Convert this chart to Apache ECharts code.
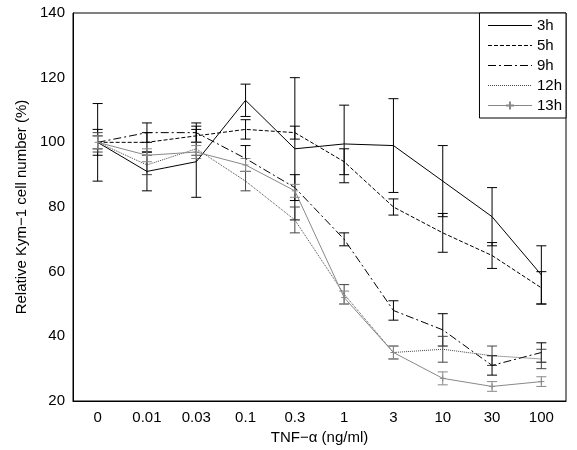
<!DOCTYPE html>
<html><head><meta charset="utf-8">
<script src="https://cdn.jsdelivr.net/npm/echarts@6/dist/echarts.min.js"></script>
<style>html,body{margin:0;padding:0;background:#fff}#main{width:577px;height:450px}</style>
</head><body><div id="main"></div>
<script>
var doses = ['0','0.01','0.03','0.1','0.3','1','3','10','30','100'];
var names = ['3h','5h','9h','12h','13h'];
var v3h  = [100, 91, 94, 113, 98, 99.5, 99, 88, 77, 59];
var e3h  = [12, 6, 11, 5, 22, 12, 14.5, 11, 9, 9];
var v5h  = [100, 100, 102, 104, 103, 94, 80, 72, 65, 55];
var e5h  = [4, 3, 2, 3, 2, 4, 2.5, 6, 4, 5];
var v9h  = [100, 103, 103, 95, 86, 70, 48, 42, 31, 35];
var e9h  = [2, 3, 3, 4, 4, 2, 3, 5, 3, 3];
var v12h = [100, 93, 98, 88, 76, 53, 35, 36, 34, 33];
var e12h = [3, 3, 2, 3, 4, 3, 2, 4, 3, 3];
var v13h = [100, 96, 97, 93, 85, 52, 35, 27, 24.5, 26];
var e13h = [2, 2, 2, 2, 2, 2, 2, 2, 1.5, 1.5];

var vals = [v3h, v5h, v9h, v12h, v13h];
var errs = [e3h, e5h, e9h, e12h, e13h];
var colors = ['#000', '#000', '#000', '#444', '#888'];
var types = ['solid', 'dashed', [8, 3, 2, 3], 'dotted', 'solid'];
var plus = 'path://M0,5L10,5M5,0L5,10';

var myChart = echarts.init(document.getElementById('main'));
var series = [];
var legendData = [];
for (var s = 0; s < names.length; s++) {
  series.push({
    name: names[s], type: 'line', data: vals[s],
    symbol: s == 4 ? plus : 'none', symbolSize: 6,
    itemStyle: {color: colors[s], borderColor: colors[s], borderWidth: 1},
    lineStyle: {color: colors[s], width: 1, type: types[s]},
    z: 3
  });
  legendData.push(s == 4 ? {name: names[s]} : {name: names[s], itemStyle: {opacity: 0}});
  var ed = [];
  for (var i = 0; i < doses.length; i++) ed.push([i, vals[s][i] - errs[s][i], vals[s][i] + errs[s][i]]);
  (function (col) {
    series.push({
      type: 'custom', data: ed, z: 2,
      renderItem: function (params, api) {
        var lo = api.coord([api.value(0), api.value(1)]);
        var hi = api.coord([api.value(0), api.value(2)]);
        var w = 5;
        var st = {stroke: col, lineWidth: 1};
        return {type: 'group', children: [
          {type: 'line', shape: {x1: lo[0], y1: lo[1], x2: hi[0], y2: hi[1]}, style: st},
          {type: 'line', shape: {x1: lo[0] - w, y1: lo[1], x2: lo[0] + w, y2: lo[1]}, style: st},
          {type: 'line', shape: {x1: hi[0] - w, y1: hi[1], x2: hi[0] + w, y2: hi[1]}, style: st}
        ]};
      }
    });
  })(colors[s]);
}

var option = {
  animation: false,
  textStyle: {fontFamily: 'Liberation Sans, Arial'},
  grid: {left: 73, right: 11, top: 13, bottom: 47, show: true, borderColor: '#000', borderWidth: 1},
  legend: {
    show: true, data: legendData, orient: 'vertical', right: 11, top: 13, z: 10,
    backgroundColor: '#fff', borderColor: '#000', borderWidth: 1,
    padding: [5, 4, 5, 8], itemGap: 5, itemWidth: 44, itemHeight: 10,
    lineStyle: {width: 1},
    textStyle: {fontSize: 15, color: '#000'}
  },
  xAxis: {
    type: 'category', data: doses, boundaryGap: true,
    name: 'TNF\u2212\u03b1 (ng/ml)', nameLocation: 'middle', nameGap: 29,
    nameTextStyle: {fontSize: 15, color: '#000'},
    axisLine: {lineStyle: {color: '#000'}},
    axisTick: {alignWithLabel: true, inside: true, length: 5, lineStyle: {color: '#000'}},
    axisLabel: {fontSize: 15, color: '#000', margin: 9},
    splitLine: {show: false}
  },
  yAxis: {
    type: 'value', min: 20, max: 140, interval: 20,
    name: 'Relative Kym\u22121 cell number (%)', nameLocation: 'middle', nameGap: 44,
    nameTextStyle: {fontSize: 15, color: '#000'},
    axisLine: {show: true, lineStyle: {color: '#000'}},
    axisTick: {inside: true, length: 5, lineStyle: {color: '#000'}},
    axisLabel: {fontSize: 15, color: '#000'},
    splitLine: {show: false}
  },
  series: series
};
myChart.setOption(option);
</script></body></html>
